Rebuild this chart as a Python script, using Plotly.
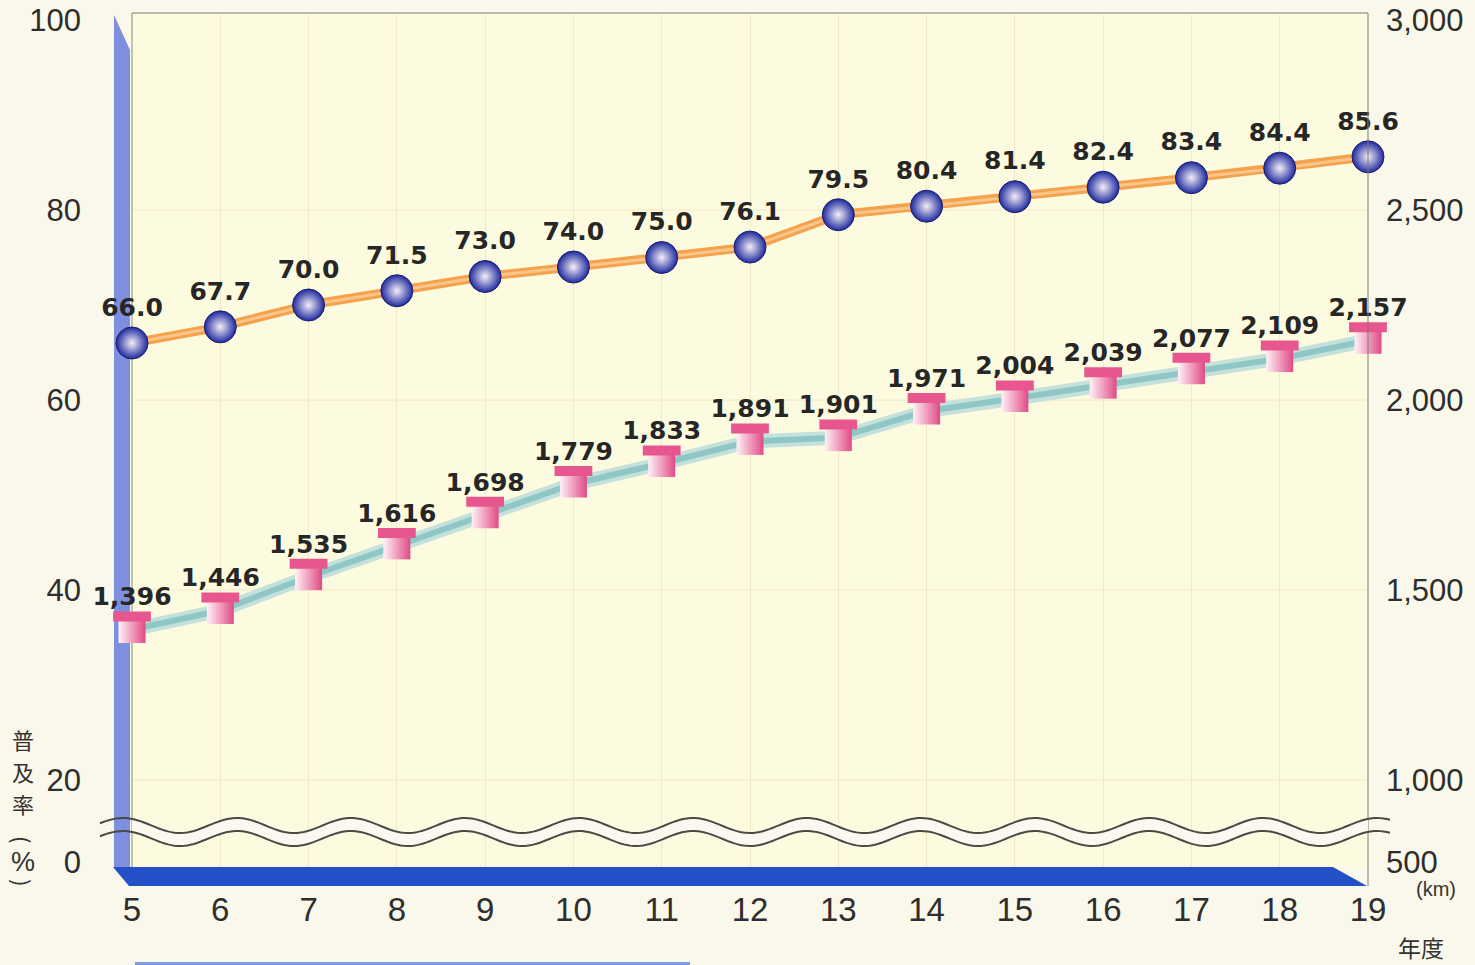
import numpy as np
import plotly.graph_objects as go

# ---------------- data ----------------
years = [5, 6, 7, 8, 9, 10, 11, 12, 13, 14, 15, 16, 17, 18, 19]
year_labels = [str(y) for y in years]
rate_pct = [66.0, 67.7, 70.0, 71.5, 73.0, 74.0, 75.0, 76.1, 79.5, 80.4, 81.4, 82.4, 83.4, 84.4, 85.6]
length_km = [1396, 1446, 1535, 1616, 1698, 1779, 1833, 1891, 1901, 1971, 2004, 2039, 2077, 2109, 2157]

left_ticks = [0, 20, 40, 60, 80, 100]
right_ticks = [500, 1000, 1500, 2000, 2500, 3000]

# ---------------- geometry (layout constants) ----------------
W, H = 1475, 965
PL, PR, PT, PB = 132, 1368, 15, 867          # plot area in pixels
Y20_PX, Y100_PX = 780, 20                    # pixel of 20 % and 100 %
Y0_PX = 862                                  # pixel of the broken-axis "0"
ppu = (Y20_PX - Y100_PX) / 80.0              # pixels per % unit


def disp_from_px(py):
    return 20 + (Y20_PX - py) / ppu


y_lo, y_hi = disp_from_px(PB), disp_from_px(PT)
zero_disp = disp_from_px(Y0_PX)
left_tickvals = [zero_disp] + left_ticks[1:]


def km_from_disp(d):
    return 1000 + (d - 20) * 25.0


y2_lo, y2_hi = km_from_disp(y_lo), km_from_disp(y_hi)
right_tickvals = [km_from_disp(zero_disp)] + right_ticks[1:]


def px(x):
    return (x - PL) / (PR - PL)


def py(y):
    return (PB - y) / (PB - PT)


label_font = dict(family="DejaVu Sans", size=25, color="#262626", weight="bold")
tick_font = dict(family="Liberation Sans", size=31, color="#2e2e2e")

fig = go.Figure()

# km line (teal band)
fig.add_trace(go.Scatter(x=years, y=length_km, yaxis="y2", mode="lines",
                         line=dict(color="#c4e1db", width=14), hoverinfo="skip",
                         showlegend=False, cliponaxis=False))
fig.add_trace(go.Scatter(x=years, y=length_km, yaxis="y2", mode="lines",
                         line=dict(color="#8fc7c7", width=6), hoverinfo="skip",
                         showlegend=False, cliponaxis=False))
# cylinder body
fig.add_trace(go.Scatter(x=years, y=length_km, yaxis="y2", mode="markers+text",
                         text=[f"{v:,}" for v in length_km], textposition="top center",
                         textfont=label_font,
                         marker=dict(symbol="square", size=27, color="#fff2f6",
                                     gradient=dict(type="horizontal", color="#e04a86"),
                                     line=dict(width=0)),
                         showlegend=False, cliponaxis=False))
# cylinder top
fig.add_trace(go.Scatter(x=years, y=length_km, yaxis="y2", mode="markers",
                         marker=dict(symbol="line-ew", size=27, angle=180, standoff=13,
                                     line=dict(color="#e8568f", width=10)),
                         hoverinfo="skip", showlegend=False, cliponaxis=False))

# percentage line (orange)
fig.add_trace(go.Scatter(x=years, y=rate_pct, mode="lines",
                         line=dict(color="#f4a24c", width=9), hoverinfo="skip",
                         showlegend=False, cliponaxis=False))
fig.add_trace(go.Scatter(x=years, y=rate_pct, mode="lines",
                         line=dict(color="#f9c58a", width=3), hoverinfo="skip",
                         showlegend=False, cliponaxis=False))
fig.add_trace(go.Scatter(x=years, y=rate_pct, mode="markers+text",
                         text=[f"{v:.1f}" for v in rate_pct], textposition="top center",
                         textfont=label_font,
                         marker=dict(symbol="circle", size=32, color="#1f2a9e",
                                     gradient=dict(type="radial", color="#f4eef8"),
                                     line=dict(color="#1a1f6e", width=1)),
                         showlegend=False, cliponaxis=False))

shapes = []
# plot background
shapes.append(dict(type="rect", xref="paper", yref="paper", x0=0, x1=1, y0=0, y1=py(PT - 2),
                   fillcolor="#fdfbdf", line=dict(width=0), layer="below"))
# horizontal grid lines
for v in left_ticks[1:-1]:
    shapes.append(dict(type="line", xref="paper", yref="y", x0=0, x1=1, y0=v, y1=v,
                       line=dict(color="#f1e8c4", width=1), layer="below"))
# left wall
shapes.append(dict(type="path", xref="paper", yref="paper",
                   path=f"M {px(114)},{py(15)} L {px(130)},{py(50)} L {px(130)},{py(867)} L {px(114)},{py(867)} Z",
                   fillcolor="#7e8fe0", line=dict(width=0), layer="below"))
# floor
shapes.append(dict(type="path", xref="paper", yref="paper",
                   path=f"M {px(113)},{py(867)} L {px(1333)},{py(867)} L {px(1367)},{py(886)} L {px(129)},{py(886)} Z",
                   fillcolor="#2350c6", line=dict(width=0), layer="below"))
# frame
shapes.append(dict(type="line", xref="paper", yref="paper", x0=px(132), x1=px(1368), y0=py(13), y1=py(13),
                   line=dict(color="#7a7a72", width=1), layer="below"))
shapes.append(dict(type="line", xref="paper", yref="paper", x0=px(1368), x1=px(1368), y0=py(13), y1=py(886),
                   line=dict(color="#7a7a72", width=1), layer="above"))
shapes.append(dict(type="line", xref="paper", yref="paper", x0=px(132), x1=px(132), y0=py(13), y1=py(867),
                   line=dict(color="#8a8a80", width=1), layer="below"))
# bottom strip
shapes.append(dict(type="rect", xref="paper", yref="paper", x0=px(135), x1=px(690), y0=py(965), y1=py(962),
                   fillcolor="#7f9be0", line=dict(width=0), layer="below"))

# wave break
PERIOD, CREST, AMP = 114.0, 693.0, 7.5
xs = np.linspace(100, 1390, 400)
up = 825.5 - AMP * np.cos(2 * np.pi * (xs - CREST) / PERIOD)
lo = up + 13
xb = np.linspace(PL, PR, 400)
upb = 825.5 - AMP * np.cos(2 * np.pi * (xb - CREST) / PERIOD)
lob = upb + 13
band = "M " + " L ".join(f"{px(a)},{py(b)}" for a, b in zip(xb, upb))
band += " L " + " L ".join(f"{px(a)},{py(b)}" for a, b in zip(xb[::-1], lob[::-1])) + " Z"
shapes.append(dict(type="path", xref="paper", yref="paper", path=band,
                   fillcolor="#fbf9ef", line=dict(width=0), layer="above"))
for arr in (up, lo):
    p = "M " + " L ".join(f"{px(a)},{py(b)}" for a, b in zip(xs, arr))
    shapes.append(dict(type="path", xref="paper", yref="paper", path=p,
                       line=dict(color="#4a4a46", width=2), layer="above"))

annotations = []
cjk = "Noto Sans CJK JP"


def ann(text, x, y, font, angle=0):
    return dict(text=text, xref="paper", yref="paper", x=px(x), y=py(y), textangle=angle,
                xanchor="center", yanchor="middle", showarrow=False, font=font)


for ch, yy in [("普", 739), ("及", 771), ("率", 803)]:
    annotations.append(ann(ch, 23, yy, dict(family=cjk, size=22, color="#333")))
annotations.append(ann("(", 23, 839, dict(family=cjk, size=22, color="#333"), 90))
annotations.append(ann("%", 23, 862, dict(family="Liberation Sans", size=27, color="#333")))
annotations.append(ann(")", 23, 882, dict(family=cjk, size=22, color="#333"), 90))
annotations.append(ann("年度", 1421, 947, dict(family=cjk, size=23, color="#333")))
annotations.append(ann("(km)", 1436, 889, dict(family="Liberation Sans", size=20, color="#333")))

fig.update_layout(
    width=W, height=H, autosize=False,
    margin=dict(l=PL, r=W - PR, t=PT, b=H - PB, pad=0, autoexpand=False),
    paper_bgcolor="#faf8ea", plot_bgcolor="rgba(0,0,0,0)",
    showlegend=False,
    xaxis=dict(range=[years[0], years[-1]], tickvals=years, ticktext=year_labels,
               showgrid=True, gridcolor="#f1e8c4", gridwidth=1, zeroline=False, showline=False,
               ticks="", tickfont=dict(family="Liberation Sans", size=33, color="#2e2e2e"),
               ticklabelstandoff=20, fixedrange=True, automargin=False),
    yaxis=dict(range=[y_lo, y_hi], tickvals=left_tickvals, ticktext=[str(t) for t in left_ticks],
               showgrid=False, zeroline=False, showline=False, ticks="", automargin=False,
               tickfont=tick_font, ticklabelstandoff=50),
    yaxis2=dict(range=[y2_lo, y2_hi], tickvals=right_tickvals, ticktext=[f"{t:,}" for t in right_ticks],
                overlaying="y", side="right", showgrid=False, zeroline=False, showline=False,
                ticks="", tickfont=tick_font, ticklabelstandoff=17, automargin=False),
    shapes=shapes, annotations=annotations,
)

fig.write_html("out.html")
